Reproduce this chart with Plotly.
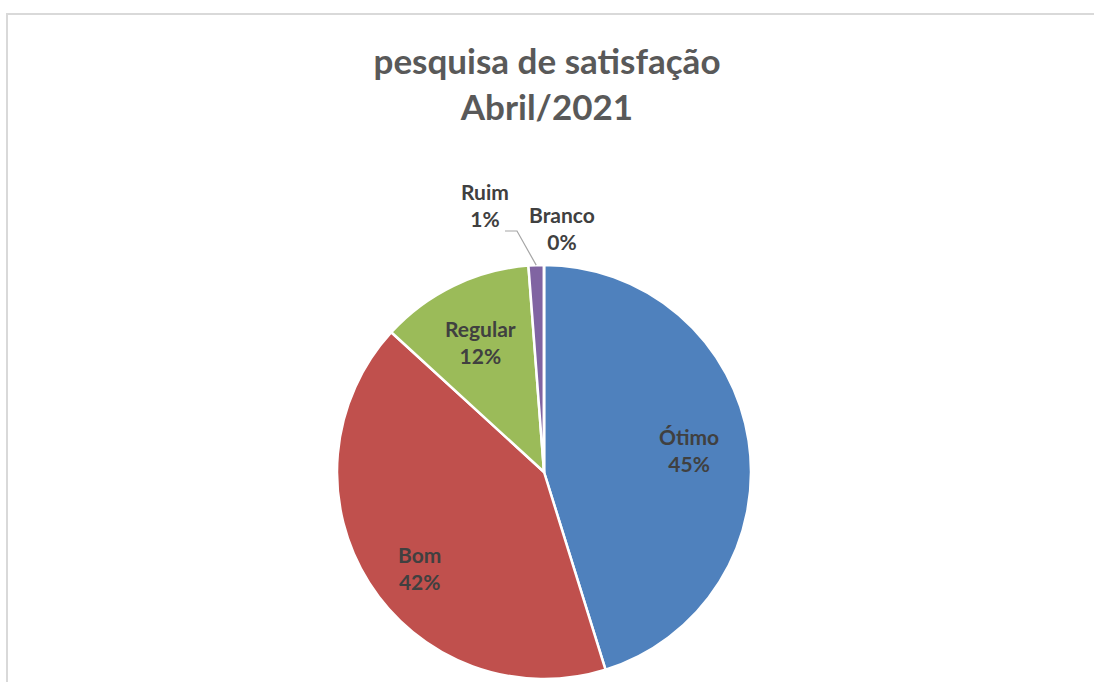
import math
import plotly.graph_objects as go

# ---- data ----
categories = ["Ótimo", "Bom", "Regular", "Ruim", "Branco"]
values = [45.2, 41.6, 12.0, 1.2, 0.0]
colors = ["#4F81BD", "#C0504D", "#9BBB59", "#8064A2", "#4BACC6"]
title_lines = ["pesquisa de satisfação", "Abril/2021"]

W, H = 1094, 682
CX, CY, R = 544, 472, 207  # pie centre/radius in pixels (top-left origin)

dom_x = [(CX - R) / W, (CX + R) / W]
dom_y = [(H - CY - R) / H, (H - CY + R) / H]

total = sum(values)
pcts = [v / total for v in values]

FONT = "Lato, 'Open Sans', sans-serif"
LABEL_FONT = dict(family=FONT, size=21, color="#404040")

fig = go.Figure(go.Pie(
    labels=categories,
    values=values,
    textinfo="none",
    sort=False,
    direction="clockwise",
    rotation=0,
    marker=dict(colors=colors, line=dict(color="white", width=2.5)),
    domain=dict(x=dom_x, y=dom_y),
    showlegend=False,
    hoverinfo="label+percent",
))


def polar_to_paper(angle_deg, rfrac):
    a = math.radians(angle_deg)
    px = CX + rfrac * R * math.sin(a)
    py = CY - rfrac * R * math.cos(a)
    return px / W, 1 - py / H


# cumulative mid angles
cum = 0
mid_angles = []
for v in values:
    ang = v / total * 360
    mid_angles.append(cum + ang / 2)
    cum += ang

# label placement (angle, radius fraction) per slice
label_pos = [
    (mid_angles[0], 0.71),
    (mid_angles[1] - 5, 0.76),
    (mid_angles[2], 0.70),
    (347.5, 1.32),
    (4.2, 1.18),
]

annotations = []
for c, p, (ang, rf) in zip(categories, pcts, label_pos):
    x, y = polar_to_paper(ang, rf)
    annotations.append(dict(
        x=x, y=y, xref="paper", yref="paper",
        text=f"<b>{c}<br>{p:.0%}</b>", showarrow=False,
        font=LABEL_FONT, xanchor="center", yanchor="middle",
    ))

# leader line for Ruim
ex, ey = polar_to_paper(mid_angles[3], 1.0)
p1 = (517 / W, 1 - 231 / H)
p2 = (505 / W, 1 - 231 / H)
shapes = [
    dict(type="path", xref="paper", yref="paper",
         path=f"M {ex} {ey} L {p1[0]} {p1[1]} L {p2[0]} {p2[1]}",
         line=dict(color="#A6A6A6", width=1.2)),
    # chart frame (extends beyond right / bottom edges)
    dict(type="rect", xref="paper", yref="paper",
         x0=7 / W, x1=1.05, y0=-0.05, y1=1 - 14 / H,
         line=dict(color="#D9D9D9", width=2), fillcolor="rgba(0,0,0,0)"),
]

fig.update_layout(
    width=W, height=H,
    margin=dict(l=0, r=0, t=0, b=0),
    paper_bgcolor="white",
    plot_bgcolor="white",
    title=dict(
        text="<b>" + "<br>".join(title_lines) + "</b>",
        x=0.5, xanchor="center",
        y=1 - 74 / H, yanchor="middle",
        font=dict(family=FONT, size=35, color="#595959"),
    ),
    annotations=annotations,
    shapes=shapes,
)

fig.write_html(
    "out.html",
    config={"displayModeBar": False},
    post_script="document.body.style.margin='0';document.body.style.overflow='hidden';",
)
